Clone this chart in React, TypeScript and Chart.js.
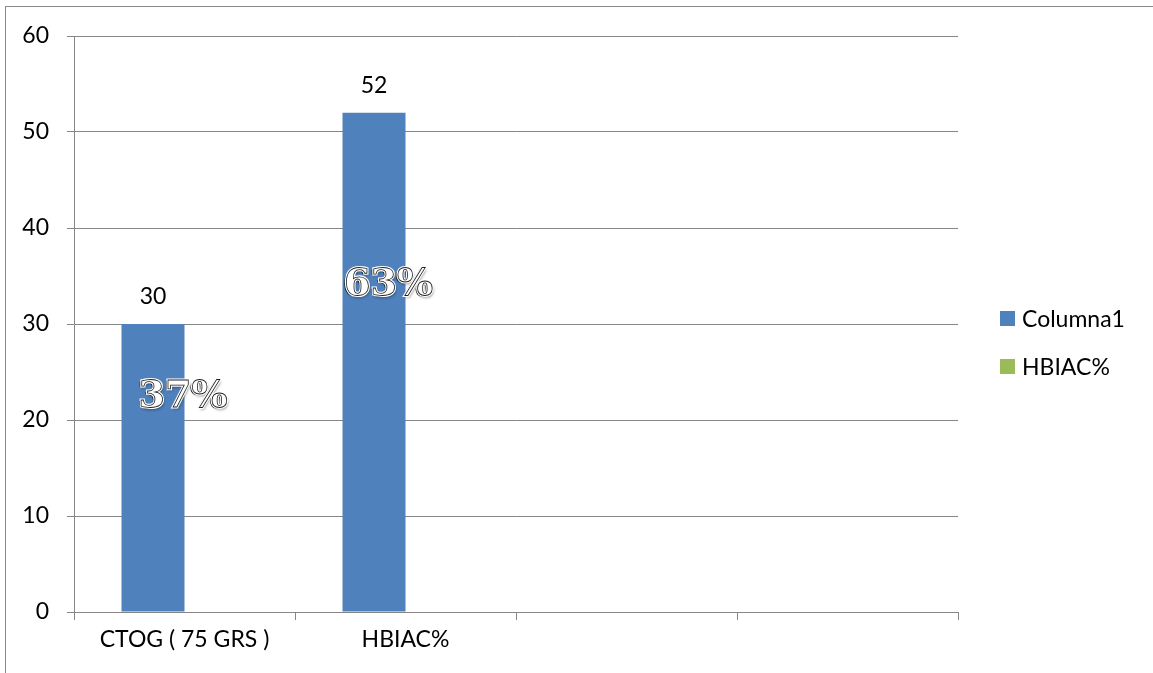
import { useEffect, useRef } from 'react';
import { Chart, registerables } from 'chart.js';

Chart.register(...registerables);

// Category axis (two labelled groups followed by two empty slots)
const categories = ['CTOG ( 75 GRS )', 'HBIAC%', '', ''];
// Series values
const columna1Values: (number | null)[] = [30, 52, null, null];
const hbiacValues: (number | null)[] = [null, null, null, null];
// Value axis
const yMin = 0;
const yMax = 60;
const yStep = 10;

const seriesNames = ['Columna1', 'HBIAC%'];
const seriesColors = ['#4F81BD', '#9BBB59'];

const TEXT_FONT = 'Lato, "Open Sans", sans-serif';
const TEXT_SIZE = 23;
const GRID = '#868686';

// Number above each bar of the first series
const valueLabelPlugin = {
  id: 'valueLabels',
  afterDatasetsDraw(chart: any) {
    const { ctx } = chart;
    const meta = chart.getDatasetMeta(0);
    const data = chart.data.datasets[0].data;
    ctx.save();
    ctx.font = `${TEXT_SIZE}px ${TEXT_FONT}`;
    ctx.fillStyle = '#000';
    ctx.textAlign = 'center';
    ctx.textBaseline = 'middle';
    meta.data.forEach((bar: any, i: number) => {
      const v = data[i];
      if (v == null) return;
      ctx.fillText(String(v), bar.x, bar.y - 27);
    });
    ctx.restore();
  },
};

// Share of the total shown as large outlined text on each bar
const shareLabelPlugin = {
  id: 'shareLabels',
  afterDatasetsDraw(chart: any, _args: any, opts: any) {
    const { ctx } = chart;
    const meta = chart.getDatasetMeta(0);
    const data = chart.data.datasets[0].data as (number | null)[];
    const total = data.reduce((s: number, v) => s + (v ?? 0), 0);
    const offsets: [number, number][] = opts.offsets || [];
    ctx.save();
    ctx.font = 'bold 38px "DejaVu Serif", serif';
    ctx.textAlign = 'center';
    ctx.textBaseline = 'middle';
    meta.data.forEach((bar: any, i: number) => {
      const v = data[i];
      if (v == null || !total) return;
      const [dx, dy] = offsets[i] || [0, 0];
      const x = bar.x + dx;
      const y = bar.y + dy;
      const text = `${Math.round((v / total) * 100)}%`;
      // soft drop shadow
      ctx.save();
      ctx.shadowColor = 'rgba(0,0,0,0.5)';
      ctx.shadowBlur = 3;
      ctx.shadowOffsetX = 1;
      ctx.shadowOffsetY = 2;
      ctx.fillStyle = '#fff';
      ctx.fillText(text, x, y);
      ctx.restore();
      // dark inner bevel
      ctx.fillStyle = '#000';
      ctx.fillText(text, x - 2, y + 1);
      // white face with thin dark outline
      ctx.lineWidth = 3;
      ctx.strokeStyle = '#fff';
      ctx.strokeText(text, x, y);
      ctx.fillStyle = '#fff';
      ctx.fillText(text, x, y);
      ctx.lineWidth = 0.8;
      ctx.strokeStyle = '#222';
      ctx.strokeText(text, x, y);
    });
    ctx.restore();
  },
};

// Vertical legend on the right side of the plot
const sideLegendPlugin = {
  id: 'sideLegend',
  afterDraw(chart: any, _args: any, opts: any) {
    const { ctx } = chart;
    const x = opts.x as number;
    const y0 = opts.y as number;
    const gap = opts.gap as number;
    ctx.save();
    ctx.font = `${TEXT_SIZE}px ${TEXT_FONT}`;
    ctx.textAlign = 'left';
    ctx.textBaseline = 'middle';
    chart.data.datasets.forEach((ds: any, i: number) => {
      const cy = y0 + i * gap;
      ctx.fillStyle = ds.backgroundColor;
      ctx.fillRect(x, cy - 7.5, 15, 15);
      ctx.fillStyle = '#000';
      ctx.fillText(ds.label, x + 22, cy + 1);
    });
    ctx.restore();
  },
};

export default function App() {
  const canvasRef = useRef<HTMLCanvasElement | null>(null);

  useEffect(() => {
    if (!canvasRef.current) return;
    const chart = new Chart(canvasRef.current, {
      type: 'bar',
      data: {
        labels: categories,
        datasets: [
          {
            label: seriesNames[0],
            data: columna1Values,
            backgroundColor: seriesColors[0],
            borderWidth: 0,
          },
          {
            label: seriesNames[1],
            data: hbiacValues,
            backgroundColor: seriesColors[1],
            borderWidth: 0,
          },
        ],
      },
      options: {
        animation: false,
        responsive: false,
        devicePixelRatio: 1,
        datasets: {
          bar: { categoryPercentage: 0.57, barPercentage: 1 },
        },
        layout: { padding: { top: 36, right: 195, bottom: 0, left: 0 } },
        plugins: {
          legend: { display: false },
          tooltip: { enabled: false },
          sideLegend: { x: 1000, y: 318.5, gap: 48 },
          shareLabels: { offsets: [[30, 73], [14.5, 172]] },
        } as any,
        scales: {
          x: {
            offset: true,
            grid: {
              offset: true,
              drawOnChartArea: false,
              drawTicks: true,
              tickLength: 8,
              color: GRID,
              lineWidth: 1,
            },
            border: { display: true, color: GRID, width: 1 },
            ticks: {
              color: '#000',
              font: { family: TEXT_FONT, size: TEXT_SIZE },
              padding: 6,
              maxRotation: 0,
              autoSkip: false,
            },
            afterFit(scale: any) {
              scale.height = 61;
            },
          },
          y: {
            min: yMin,
            max: yMax,
            ticks: {
              stepSize: yStep,
              color: '#000',
              font: { family: TEXT_FONT, size: TEXT_SIZE },
              padding: 18,
            },
            grid: {
              color: GRID,
              lineWidth: 1,
              drawTicks: true,
              tickLength: 7,
            },
            border: { display: true, color: GRID, width: 1 },
            afterFit(scale: any) {
              scale.width = 74;
            },
          },
        },
      },
      plugins: [valueLabelPlugin, shareLabelPlugin, sideLegendPlugin],
    });
    return () => chart.destroy();
  }, []);

  return (
    <div style={{ position: 'absolute', left: 0, top: 0, width: 1153, height: 673, background: '#fff', overflow: 'hidden' }}>
      <div
        style={{
          position: 'absolute',
          left: 5,
          top: 6,
          width: 1200,
          height: 700,
          borderTop: '1px solid #8a8a8a',
          borderLeft: '1px solid #8a8a8a',
        }}
      />
      <canvas
        ref={canvasRef}
        width={1153}
        height={673}
        style={{ position: 'absolute', left: 0, top: 0, width: 1153, height: 673 }}
      />
    </div>
  );
}
